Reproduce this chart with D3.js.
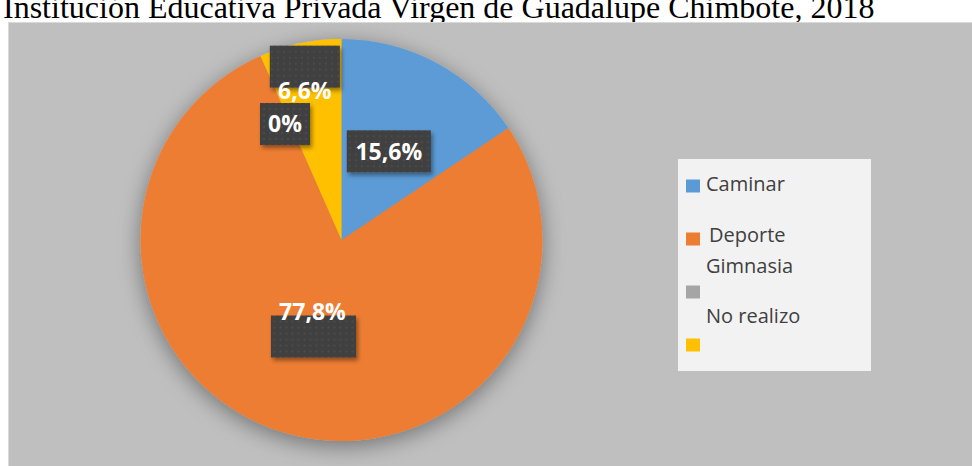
<!DOCTYPE html>
<html lang='es'>
<head>
    <meta charset='UTF-8'>
    <title>Actividad física</title>
    <style>
        body { margin: 0; background: #fff; }
        svg { display: block; }
    </style>
</head>
<body>
<div id="chart-area"></div>
</body>
<script src='https://d3js.org/d3.v7.min.js'></script>
<script>

    // data
    const categories = ['Caminar', 'Deporte', 'Gimnasia', 'No realizo'];
    const values = [15.6, 77.8, 0, 6.6];
    const valueLabels = ['15,6%', '77,8%', '0%', '6,6%'];
    const titleText = 'Institución Educativa Privada Virgen de Guadalupe Chimbote, 2018';

    const colors = ['#5b9bd5', '#ed7d31', '#a5a5a5', '#ffc000'];

    // label boxes were dragged by hand in the original, offsets relative to centroid
    const boxOffsets = [[0, 0], [0, 0], [-16, -24], [-16, -75]];
    const boxWidths = [84, 85, 50, 70];
    const textOffsets = [[0, 0], [-1, -25], [0, 0], [0, 24]];
    // legend text sits beside or above its swatch
    const legendTextOffsets = [[0, -2], [3, -4], [0, -26], [0, -29]];

    const outerWidth = 972;
    const outerHeight = 466;
    const panel = {x: 8, y: 22};
    const cx = 341.5, cy = 240, radius = 201;

    const svg = d3.select('#chart-area').append('svg')
        .attr('width', outerWidth)
        .attr('height', outerHeight)
        .style('font-family', '"Open Sans", sans-serif');

    const defs = svg.append('defs');

    const shadow = defs.append('filter').attr('id', 'pie-shadow')
        .attr('x', '-30%').attr('y', '-30%').attr('width', '160%').attr('height', '160%');
    shadow.append('feDropShadow')
        .attr('dx', 0).attr('dy', 5).attr('stdDeviation', 11)
        .attr('flood-color', '#000').attr('flood-opacity', 0.4);

    const boxShadow = defs.append('filter').attr('id', 'box-shadow')
        .attr('x', '-20%').attr('y', '-20%').attr('width', '150%').attr('height', '160%');
    boxShadow.append('feDropShadow')
        .attr('dx', 2).attr('dy', 3).attr('stdDeviation', 2)
        .attr('flood-color', '#000').attr('flood-opacity', 0.4);

    const dots = defs.append('pattern').attr('id', 'dots')
        .attr('width', 6).attr('height', 6).attr('patternUnits', 'userSpaceOnUse');
    dots.append('rect').attr('width', 6).attr('height', 6).attr('fill', '#3f3f3f');
    dots.append('rect').attr('x', 2).attr('y', 2).attr('width', 2).attr('height', 2).attr('fill', '#4c4c4c');

    // title (its top is cut by the frame in the original)
    svg.append('text')
        .attr('x', 3)
        .attr('y', 18)
        .style('font-family', '"Liberation Serif", "Times New Roman", serif')
        .style('font-size', '32px')
        .attr('fill', '#000')
        .text(titleText);

    // chart panel
    svg.append('rect')
        .attr('x', panel.x + 0.5)
        .attr('y', panel.y + 0.5)
        .attr('width', outerWidth - panel.x)
        .attr('height', outerHeight - panel.y)
        .attr('fill', '#bfbfbf')
        .attr('stroke', '#d9d9d9');

    const pie = d3.pie().sort(null).value(d => d)(values);
    const arc = d3.arc().innerRadius(0).outerRadius(radius);

    const g = svg.append('g').attr('transform', `translate(${cx}, ${cy})`);

    g.append('g')
        .attr('filter', 'url(#pie-shadow)')
        .selectAll('path')
        .data(pie)
        .enter().append('path')
        .attr('d', arc)
        .attr('fill', (d, i) => colors[i]);

    // data labels
    const labels = g.append('g').selectAll('g')
        .data(pie)
        .enter().append('g')
        .attr('transform', (d, i) => {
            const [x, y] = arc.centroid(d);
            return `translate(${x + boxOffsets[i][0]}, ${y + boxOffsets[i][1]})`;
        });

    labels.append('rect')
        .attr('x', (d, i) => -boxWidths[i] / 2)
        .attr('y', -21)
        .attr('width', (d, i) => boxWidths[i])
        .attr('height', 42)
        .attr('fill', 'url(#dots)')
        .attr('filter', 'url(#box-shadow)');

    labels.append('text')
        .attr('x', (d, i) => textOffsets[i][0])
        .attr('y', (d, i) => textOffsets[i][1])
        .attr('dy', '0.36em')
        .attr('text-anchor', 'middle')
        .attr('fill', '#fff')
        .style('font-size', '23px')
        .style('font-weight', 'bold')
        .text((d, i) => valueLabels[i]);

    // legend
    const legend = svg.append('g');
    legend.append('rect')
        .attr('x', 678)
        .attr('y', 159)
        .attr('width', 193)
        .attr('height', 212)
        .attr('fill', '#f2f2f2');

    const legendY = d3.scalePoint().domain(categories).range([186, 345]);

    const item = legend.selectAll('g.item')
        .data(categories)
        .enter().append('g')
        .attr('class', 'item')
        .attr('transform', d => `translate(686, ${legendY(d)})`);

    item.append('rect')
        .attr('x', 0)
        .attr('y', -6.5)
        .attr('width', 14)
        .attr('height', 13)
        .attr('fill', (d, i) => colors[i]);

    item.append('text')
        .attr('x', (d, i) => 20 + legendTextOffsets[i][0])
        .attr('y', (d, i) => legendTextOffsets[i][1])
        .attr('dy', '0.36em')
        .attr('fill', '#404040')
        .style('font-size', '20px')
        .text(d => d);

</script>
</html>
